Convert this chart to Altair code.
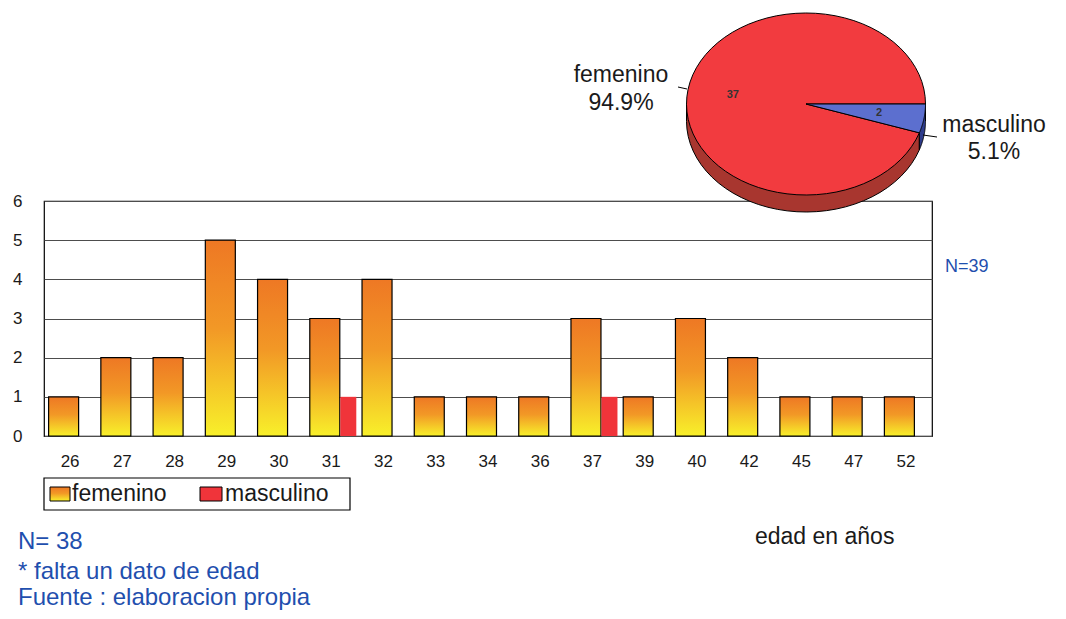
import altair as alt
import pandas as pd

# ---------------- data ----------------
edades = ["26", "27", "28", "29", "30", "31", "32", "33", "34", "36",
          "37", "39", "40", "42", "45", "47", "52"]
femenino = [1, 2, 2, 5, 4, 3, 4, 1, 1, 1, 3, 1, 3, 2, 1, 1, 1]
masculino = [0, 0, 0, 0, 0, 1, 0, 0, 0, 0, 1, 0, 0, 0, 0, 0, 0]
series = ["femenino", "masculino"]
y_ticks = [0, 1, 2, 3, 4, 5, 6]

pie_sexo = ["femenino", "masculino"]
pie_n = [37, 2]

notas = ["N= 38", "* falta un dato de edad", "Fuente : elaboracion propia"]
n_total_txt = "N=39"
x_title = "edad en años"

# ---------------- style ----------------
W, H = 888, 235
FONT = "Liberation Sans"
BLUE = "#1f4fae"
TXT = "#1a1a1a"
RED = "#f0343a"
PIE_RED = "#f23b3f"
PIE_BLUE = "#5c6fcf"
SIDE_RED = "#a8362f"
SIDE_BLUE = "#2e3c8c"

grad = alt.LinearGradient(
    gradient="linear",
    stops=[alt.GradientStop(color="#ee7824", offset=0),
           alt.GradientStop(color="#f29826", offset=0.45),
           alt.GradientStop(color="#f8f02a", offset=1)],
    x1=0, x2=0, y1=0, y2=1)

df = pd.DataFrame({"edad": edades, "femenino": femenino, "masculino": masculino})

xscale = alt.Scale(domain=edades, paddingInner=0, paddingOuter=0)
yscale = alt.Scale(domain=[0, 6], nice=False, zero=True)

fem_bars = alt.Chart(df).mark_bar(
    fill=grad, stroke="black", strokeWidth=1.2, width=30, xOffset=-6.5
).encode(
    x=alt.X("edad:N", scale=xscale,
            axis=alt.Axis(title=None, labelAngle=0, ticks=False, domain=False,
                          grid=False, labelFont=FONT, labelFontSize=17,
                          labelColor=TXT, labelPadding=17)),
    y=alt.Y("femenino:Q", scale=yscale,
            axis=alt.Axis(title=None, values=y_ticks, ticks=False, domain=False,
                          grid=True, gridColor="#4d4d4d", gridWidth=1,
                          labelFont=FONT, labelFontSize=17, labelColor=TXT,
                          labelPadding=22)),
)

masc_bars = alt.Chart(df).mark_bar(
    fill=RED, width=16, xOffset=17
).encode(
    x=alt.X("edad:N", scale=xscale, axis=None),
    y=alt.Y("masculino:Q", scale=yscale, axis=None),
)

# ---------------- pie (3D-like ellipse) ----------------
pie_df = pd.DataFrame({"sexo": pie_sexo, "n": pie_n})
NP = 72
DEPTH = 17 / 91
xs = alt.Scale(domain=[-1, 1], range=[642.5, 881.5], nice=False, zero=False)
ys = alt.Scale(domain=[-1, 1], range=[-188, -6], nice=False, zero=False)

base = alt.Chart(pie_df).transform_joinaggregate(
    total="sum(n)"
).transform_window(
    cum="sum(n)", sort=[alt.SortField("sexo", order="descending")]
).transform_calculate(
    start="datum.cum - datum.n"
)


def face(sexo, fill):
    return base.transform_filter(alt.datum.sexo == sexo).transform_calculate(
        k=f"sequence(-1, {NP + 1})"
    ).transform_flatten(["k"]).transform_calculate(
        t=f"2*PI*(datum.start + datum.n*max(datum.k,0)/{NP})/datum.total"
    ).transform_calculate(
        px="datum.k < 0 ? 0 : cos(datum.t)"
    ).transform_calculate(
        py="datum.k < 0 ? 0 : sin(datum.t)"
    ).mark_line(
        interpolate="linear-closed", fill=fill, stroke="black", strokeWidth=1
    ).encode(
        x=alt.X("px:Q", scale=xs, axis=None),
        y=alt.Y("py:Q", scale=ys, axis=None),
        order="k:Q",
    )


def side(sexo, fill):
    return base.transform_filter(alt.datum.sexo == sexo).transform_calculate(
        k=f"sequence(0, {NP + 1})"
    ).transform_flatten(["k"]).transform_calculate(
        t=f"min(PI, 2*PI*(datum.start + datum.n*datum.k/{NP})/datum.total)"
    ).transform_calculate(
        px="cos(datum.t)"
    ).transform_calculate(
        py=f"sin(datum.t) + {DEPTH}"
    ).transform_calculate(
        py0="0"
    ).mark_area(
        fill=fill, stroke="black", strokeWidth=1
    ).encode(
        x=alt.X("px:Q", scale=xs, axis=None),
        y=alt.Y("py:Q", scale=ys, axis=None),
        y2="py0:Q",
    )


inner = base.transform_calculate(
    mid="2*PI*(datum.start + datum.n/2)/datum.total"
).transform_calculate(
    lx="0.62*cos(datum.mid)"
).transform_calculate(
    ly="0.62*sin(datum.mid)"
).mark_text(font=FONT, fontSize=11, fontWeight="bold", color="#333333").encode(
    x=alt.X("lx:Q", scale=xs, axis=None),
    y=alt.Y("ly:Q", scale=ys, axis=None),
    text="n:Q",
)

pie_layers = [side("femenino", SIDE_RED), side("masculino", SIDE_BLUE),
              face("femenino", PIE_RED), face("masculino", PIE_BLUE), inner]


def pie_label(sexo, x, y1, y2):
    b = base.transform_filter(alt.datum.sexo == sexo).transform_calculate(
        pct="format(datum.n/datum.total*100, '.1f') + '%'"
    )
    t1 = b.mark_text(font=FONT, fontSize=23, color=TXT, align="center",
                     baseline="alphabetic").encode(
        x=alt.value(x), y=alt.value(y1), text="sexo:N")
    t2 = b.mark_text(font=FONT, fontSize=23, color=TXT, align="center",
                     baseline="alphabetic").encode(
        x=alt.value(x), y=alt.value(y2), text="pct:N")
    return [t1, t2]


one = pd.DataFrame({"a": [0]})


def seg(x1, y1, x2, y2):
    return alt.Chart(one).mark_rule(color="black", strokeWidth=1).encode(
        x=alt.value(x1), x2=alt.value(x2), y=alt.value(y1), y2=alt.value(y2))


labels = pie_label("femenino", 577, -119, -91) + pie_label("masculino", 950, -69, -42)
leaders = [seg(634, -114, 643, -112), seg(879, -66, 893, -64)]

# ---------------- legend ----------------
leg_box = alt.Chart(one).mark_rect(fill="white", stroke="black", strokeWidth=1.2).encode(
    x=alt.value(0), x2=alt.value(306), y=alt.value(277), y2=alt.value(309))
leg_df = pd.DataFrame({"serie": series})
leg_sym_f = alt.Chart(leg_df).transform_filter(alt.datum.serie == series[0]).mark_rect(
    fill=grad, stroke="black", strokeWidth=1).encode(
    x=alt.value(6), x2=alt.value(26), y=alt.value(286), y2=alt.value(300))
leg_sym_m = alt.Chart(leg_df).transform_filter(alt.datum.serie == series[1]).mark_rect(
    fill=RED, stroke="black", strokeWidth=1).encode(
    x=alt.value(156), x2=alt.value(178), y=alt.value(286), y2=alt.value(300))
leg_txt_f = alt.Chart(leg_df).transform_filter(alt.datum.serie == series[0]).mark_text(
    font=FONT, fontSize=23, color=TXT, align="left", baseline="middle").encode(
    x=alt.value(28), y=alt.value(293), text="serie:N")
leg_txt_m = alt.Chart(leg_df).transform_filter(alt.datum.serie == series[1]).mark_text(
    font=FONT, fontSize=23, color=TXT, align="left", baseline="middle").encode(
    x=alt.value(181), y=alt.value(293), text="serie:N")

# ---------------- annotations ----------------
n39 = alt.Chart(pd.DataFrame({"t": [n_total_txt]})).mark_text(
    font=FONT, fontSize=18, color=BLUE, align="left", baseline="middle").encode(
    x=alt.value(901), y=alt.value(66), text="t:N")
xtitle = alt.Chart(pd.DataFrame({"t": [x_title]})).mark_text(
    font=FONT, fontSize=23, color=TXT, align="left", baseline="middle").encode(
    x=alt.value(711), y=alt.value(336), text="t:N")
note_layers = []
for txt, yy in zip(notas, [341, 371, 397]):
    note_layers.append(alt.Chart(pd.DataFrame({"t": [txt]})).mark_text(
        font=FONT, fontSize=24, color=BLUE, align="left", baseline="middle").encode(
        x=alt.value(-26), y=alt.value(yy), text="t:N"))

chart = alt.layer(
    fem_bars, masc_bars, *pie_layers, *labels, *leaders,
    leg_box, leg_sym_f, leg_sym_m, leg_txt_f, leg_txt_m,
    n39, xtitle, *note_layers
).resolve_scale(
    x="independent", y="independent"
).properties(
    width=W, height=H,
    padding={"left": 36, "top": 193, "right": 124, "bottom": 175},
    autosize=alt.AutoSizeParams(type="none"),
).configure(
    background="white", font=FONT
).configure_view(
    stroke="black", strokeWidth=1.2, fill="white"
)

chart.save("out.html", embed_options={"renderer": "svg", "actions": False})
